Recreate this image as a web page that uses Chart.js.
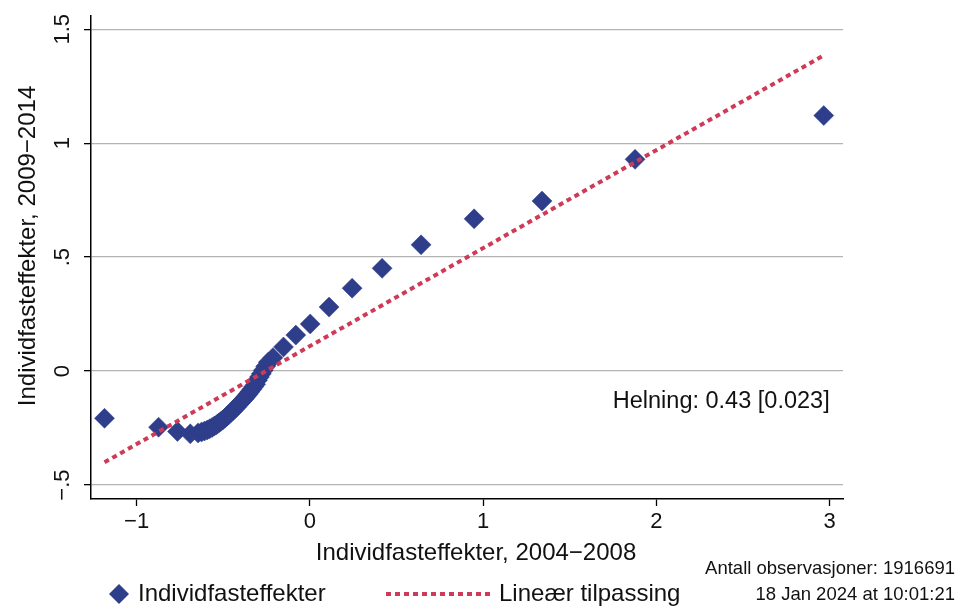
<!DOCTYPE html>
<html>
<head>
<meta charset="utf-8">
<script src="https://cdn.jsdelivr.net/npm/chart.js@4.4.1/dist/chart.umd.min.js"></script>
<style>
  html, body { margin: 0; padding: 0; background: #fff; }
</style>
</head>
<body>
<canvas id="chart" width="957" height="606"></canvas>
<script>
// binned means, 2004-2008 (x) vs 2009-2014 (y)
const binX = [
  -1.185, -0.873, -0.764, -0.690, -0.645,
  -0.625, -0.608, -0.592, -0.578, -0.564, -0.551, -0.538, -0.526, -0.514, -0.502,
  -0.490, -0.478, -0.467, -0.456, -0.445, -0.434, -0.423, -0.412, -0.401, -0.390,
  -0.379, -0.368, -0.357, -0.346, -0.335, -0.324, -0.313, -0.302, -0.291, -0.280,
  -0.268, -0.255, -0.240,
  -0.213, -0.152, -0.081, 0.002, 0.111, 0.244, 0.417, 0.642, 0.948, 1.340, 1.877, 2.966
]
const binY = [
  -0.207, -0.246, -0.265, -0.275, -0.271,
  -0.267, -0.263, -0.258, -0.253, -0.247, -0.241, -0.235, -0.228, -0.221, -0.214,
  -0.206, -0.198, -0.190, -0.182, -0.174, -0.165, -0.157, -0.148, -0.139, -0.130,
  -0.121, -0.111, -0.101, -0.091, -0.080, -0.069, -0.058, -0.040, -0.026, -0.012,
  0.004, 0.021, 0.039,
  0.059, 0.106, 0.158, 0.207, 0.281, 0.364, 0.451, 0.554, 0.668, 0.746, 0.929, 1.121
]

// linear fit, slope 0.43
const fitX = [-1.185, 2.966]
const fitY = [-0.400, 1.385]

const xTicks = [-1, 0, 1, 2, 3]
const xTickLabels = ['\u22121', '0', '1', '2', '3']
const yTicks = [-0.5, 0, 0.5, 1, 1.5]
const yTickLabels = ['\u2212.5', '0', '.5', '1', '1.5']

const xTitle = 'Individfasteffekter, 2004\u22122008'
const yTitle = 'Individfasteffekter, 2009\u22122014'
const slopeText = 'Helning: 0.43 [0.023]'
const seriesNames = ['Individfasteffekter', 'Lineær tilpassing']
const notes = ['Antall observasjoner: 1916691', '18 Jan 2024 at 10:01:21']

const NAVY = '#2f3e8b'
const RED = '#cf3a57'
const INK = '#111'
const FONT = '"Liberation Sans", Arial, sans-serif'

const scatterPoints = binX.map((x, i) => ({ x: x, y: binY[i] }))
const fitPoints = fitX.map((x, i) => ({ x: x, y: fitY[i] }))

function drawDiamond(ctx, x, y, r) {
  ctx.beginPath()
  ctx.moveTo(x - r, y)
  ctx.lineTo(x, y - r)
  ctx.lineTo(x + r, y)
  ctx.lineTo(x, y + r)
  ctx.closePath()
  ctx.fill()
}

const decorations = {
  id: 'decorations',
  afterDraw(chart) {
    const ctx = chart.ctx
    const xs = chart.scales.x
    const ys = chart.scales.y
    const area = chart.chartArea
    ctx.save()
    ctx.fillStyle = INK

    // rotated y tick labels
    ctx.font = '22px ' + FONT
    ctx.textAlign = 'center'
    ctx.textBaseline = 'middle'
    yTicks.forEach((v, i) => {
      ctx.save()
      ctx.translate(63, ys.getPixelForValue(v))
      ctx.rotate(-Math.PI / 2)
      ctx.fillText(yTickLabels[i], 0, 0)
      ctx.restore()
    })

    // axis titles
    ctx.font = '24px ' + FONT
    ctx.save()
    ctx.translate(28, 246)
    ctx.rotate(-Math.PI / 2)
    ctx.fillText(yTitle, 0, 0)
    ctx.restore()
    ctx.fillText(xTitle, (area.left + area.right) / 2 + 9, 553)

    // slope annotation
    ctx.font = '23.5px ' + FONT
    ctx.textAlign = 'right'
    ctx.fillText(slopeText, xs.getPixelForValue(3), ys.getPixelForValue(-0.135))

    // legend
    ctx.font = '24px ' + FONT
    ctx.textAlign = 'left'
    ctx.fillStyle = NAVY
    drawDiamond(ctx, 119, 594, 10)
    ctx.strokeStyle = RED
    ctx.lineWidth = 4
    ctx.setLineDash([5, 4])
    ctx.beginPath()
    ctx.moveTo(386, 594)
    ctx.lineTo(490, 594)
    ctx.stroke()
    ctx.setLineDash([])
    ctx.fillStyle = INK
    ctx.fillText(seriesNames[0], 138, 594)
    ctx.fillText(seriesNames[1], 499, 594)

    // notes
    ctx.font = '18.5px ' + FONT
    ctx.textAlign = 'right'
    ctx.fillText(notes[0], 955, 569)
    ctx.fillText(notes[1], 955, 595)
    ctx.restore()
  }
}

new Chart(document.getElementById('chart').getContext('2d'), {
  type: 'scatter',
  data: {
    datasets: [
      {
        label: seriesNames[1],
        type: 'line',
        data: fitPoints,
        order: 0,
        borderColor: RED,
        borderWidth: 4,
        borderDash: [5, 4],
        pointRadius: 0,
        fill: false,
        tension: 0
      },
      {
        label: seriesNames[0],
        data: scatterPoints,
        order: 1,
        pointStyle: 'rectRot',
        pointRadius: 10,
        backgroundColor: NAVY,
        borderColor: NAVY,
        borderWidth: 0.5
      }
    ]
  },
  options: {
    responsive: false,
    devicePixelRatio: 1,
    animation: false,
    layout: { padding: { top: 13, right: 114, left: 0, bottom: 0 } },
    plugins: {
      legend: { display: false },
      tooltip: { enabled: false }
    },
    scales: {
      x: {
        type: 'linear',
        min: -1.263,
        max: 3.077,
        afterBuildTicks: s => { s.ticks = xTicks.map(v => ({ value: v })) },
        afterFit: s => { s.height = 107 },
        ticks: {
          autoSkip: false,
          maxRotation: 0,
          padding: 3,
          color: INK,
          font: { family: FONT, size: 22 },
          callback: v => xTickLabels[xTicks.indexOf(v)]
        },
        grid: {
          drawOnChartArea: false,
          drawTicks: true,
          tickLength: 7,
          tickColor: '#000',
          tickWidth: 1.3
        },
        border: { color: '#000', width: 1.5 }
      },
      y: {
        type: 'linear',
        min: -0.561,
        max: 1.557,
        afterBuildTicks: s => { s.ticks = yTicks.map(v => ({ value: v })) },
        afterFit: s => { s.width = 91 },
        ticks: {
          color: 'rgba(0,0,0,0)',
          font: { family: FONT, size: 22 },
          callback: v => yTickLabels[yTicks.indexOf(v)]
        },
        grid: {
          color: '#b4b4b4',
          lineWidth: 1.3,
          drawTicks: true,
          tickLength: 7,
          tickColor: '#000',
          tickWidth: 1.3
        },
        border: { color: '#000', width: 1.5 }
      }
    }
  },
  plugins: [decorations]
})
</script>
</body>
</html>
